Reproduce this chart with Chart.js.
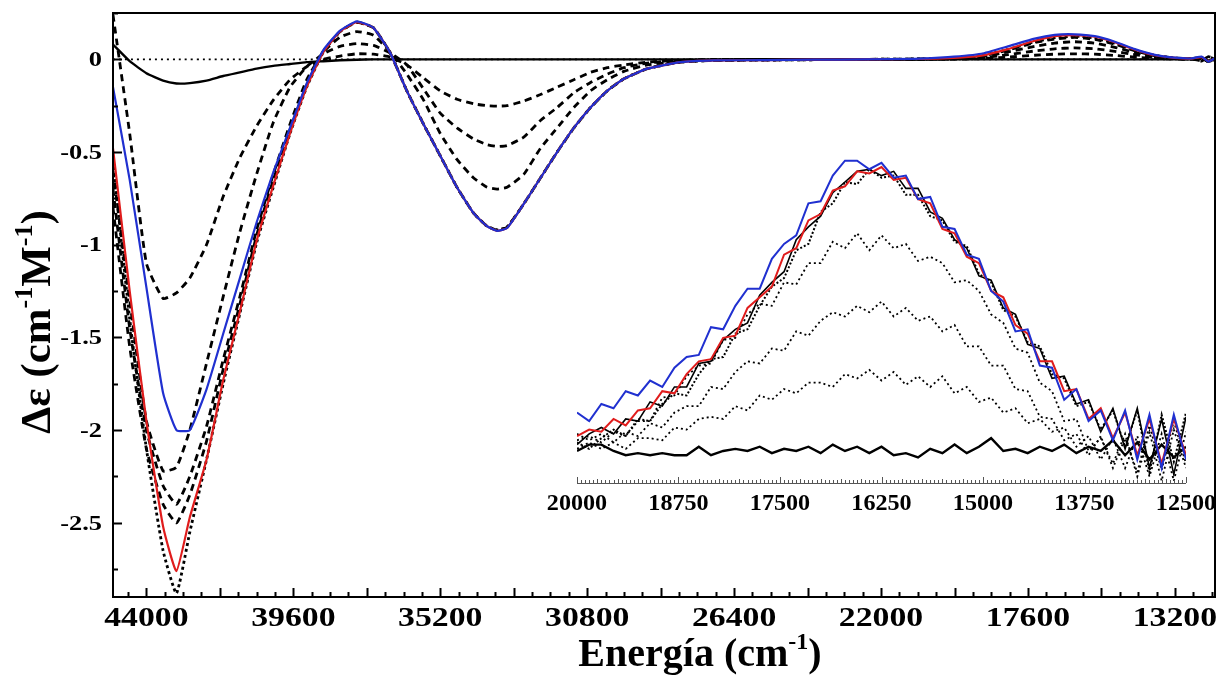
<!DOCTYPE html>
<html>
<head>
<meta charset="utf-8">
<script src="https://cdn.jsdelivr.net/npm/chart.js@4/dist/chart.umd.min.js"></script>
<style>
  html, body { margin: 0; padding: 0; background: #fff; }
  #wrap { position: relative; width: 1224px; height: 676px; }
  #main { position: absolute; left: 0; top: 0; width: 1224px; height: 676px; }
  #inset { position: absolute; left: 530px; top: 140px; width: 690px; height: 390px; }
</style>
</head>
<body>
<div id="wrap">
  <canvas id="main" width="1224" height="676"></canvas>
  <canvas id="inset" width="690" height="390"></canvas>
</div>
<script>
// main spectra, energy in cm-1 (descending)
const energy = [45000, 44500, 44000, 43500, 43100, 42700, 42200, 41700, 41200, 40700,
  40200, 39700, 39200, 38700, 38200, 37700, 37200, 36700, 36200, 35700,
  35200, 34700, 34200, 33800, 33500, 33200, 32700, 32200, 31700, 31200,
  30700, 30200, 29700, 29000, 28000, 27000, 25500, 24000, 22500, 21000,
  20000, 19000, 18200, 17400, 16800, 16200, 15600, 15000, 14400, 13800,
  13200, 12700, 12400, 12200, 12000];

const redCD = [-0.48, -1.25, -1.95, -2.52, -2.76, -2.47, -2.16, -1.73, -1.36, -0.98,
  -0.68, -0.40, -0.15, 0.04, 0.15, 0.20, 0.17, 0.035, -0.17, -0.35,
  -0.52, -0.69, -0.83, -0.90, -0.925, -0.91, -0.78, -0.64, -0.50, -0.37,
  -0.26, -0.17, -0.105, -0.05, -0.015, -0.006, -0.004, -0.002, 0.0, 0.002,
  0.006, 0.02, 0.055, 0.10, 0.125, 0.131, 0.122, 0.092, 0.052, 0.022,
  0.008, 0.004, 0.012, -0.01, 0.005];

const blueCD = [-0.15, -0.65, -1.23, -1.80, -2.0, -2.0, -1.78, -1.48, -1.18, -0.88,
  -0.61, -0.37, -0.13, 0.05, 0.155, 0.205, 0.17, 0.035, -0.17, -0.35,
  -0.52, -0.69, -0.83, -0.90, -0.925, -0.91, -0.78, -0.64, -0.50, -0.37,
  -0.26, -0.17, -0.105, -0.05, -0.015, -0.006, -0.004, -0.002, 0.0, 0.003,
  0.012, 0.03, 0.07, 0.112, 0.132, 0.135, 0.125, 0.095, 0.055, 0.024,
  0.009, 0.005, 0.015, -0.012, 0.006];

const startCD = [0.08, -0.01, -0.075, -0.115, -0.13, -0.128, -0.115, -0.09, -0.07, -0.05,
  -0.035, -0.025, -0.015, -0.01, -0.005, -0.002, 0, 0, 0, 0,
  0, 0, 0, 0, 0, 0, 0, 0, 0, 0,
  0, 0, 0, 0, 0, 0, 0, 0, 0, 0,
  0, 0, 0, 0, 0, 0, 0, 0, 0, 0,
  0, 0, 0.006, -0.006, 0.002];

const step1CD = [0.24, -0.40, -1.10, -1.29, -1.26, -1.18, -1.0, -0.74, -0.53, -0.36,
  -0.22, -0.11, -0.04, 0.0, 0.018, 0.03, 0.028, 0.012, -0.03, -0.10,
  -0.17, -0.215, -0.24, -0.25, -0.252, -0.25, -0.225, -0.19, -0.15, -0.11,
  -0.07, -0.045, -0.03, -0.015, -0.005, 0, 0, 0, 0, 0,
  0, 0.004, 0.012, 0.022, 0.028, 0.03, 0.028, 0.021, 0.012, 0.005,
  0.002, 0, 0.008, -0.012, 0];

const step2CD = [-0.60, -1.30, -1.95, -2.22, -2.20, -2.0, -1.64, -1.28, -0.93, -0.62,
  -0.34, -0.15, -0.04, 0.03, 0.07, 0.085, 0.075, 0.035, -0.03, -0.16,
  -0.29, -0.37, -0.43, -0.46, -0.47, -0.465, -0.42, -0.33, -0.26, -0.18,
  -0.125, -0.08, -0.045, -0.02, -0.008, -0.004, 0, 0, 0, 0,
  0.002, 0.008, 0.025, 0.045, 0.057, 0.062, 0.057, 0.043, 0.025, 0.01,
  0.004, 0.002, -0.008, 0.015, 0];

const step3CD = [-0.70, -1.45, -2.0, -2.30, -2.40, -2.25, -1.98, -1.62, -1.28, -0.92,
  -0.62, -0.35, -0.11, 0.04, 0.12, 0.15, 0.13, 0.04, -0.08, -0.22,
  -0.40, -0.54, -0.64, -0.69, -0.70, -0.69, -0.62, -0.48, -0.37, -0.26,
  -0.17, -0.11, -0.065, -0.03, -0.01, -0.005, 0, 0, 0, 0,
  0.003, 0.013, 0.04, 0.07, 0.088, 0.095, 0.087, 0.065, 0.037, 0.015,
  0.005, 0.002, 0.01, -0.012, 0.003];

const step4CD = [-0.80, -1.55, -2.10, -2.40, -2.50, -2.35, -2.06, -1.67, -1.32, -0.95,
  -0.65, -0.38, -0.14, 0.045, 0.15, 0.20, 0.17, 0.035, -0.17, -0.35,
  -0.52, -0.69, -0.83, -0.90, -0.92, -0.905, -0.78, -0.64, -0.50, -0.37,
  -0.26, -0.17, -0.105, -0.05, -0.015, -0.006, -0.004, -0.002, 0, 0.002,
  0.005, 0.018, 0.05, 0.09, 0.11, 0.118, 0.108, 0.082, 0.046, 0.02,
  0.007, 0.003, -0.01, 0.014, 0];

const step5CD = [-0.55, -1.40, -2.10, -2.65, -2.88, -2.55, -2.16, -1.75, -1.37, -0.99,
  -0.69, -0.40, -0.15, 0.04, 0.15, 0.20, 0.17, 0.035, -0.17, -0.35,
  -0.52, -0.69, -0.83, -0.90, -0.92, -0.905, -0.78, -0.64, -0.50, -0.37,
  -0.26, -0.17, -0.105, -0.05, -0.015, -0.006, -0.004, -0.002, 0, 0.002,
  0.005, 0.02, 0.053, 0.095, 0.117, 0.125, 0.115, 0.087, 0.049, 0.021,
  0.007, 0.003, 0.011, -0.013, 0.004];

const zeroX = [45000, 12000];
const zeroY = [0, 0];

// inset: d-d band, 20000 - 12500 cm-1
const insetEnergy = [20000, 19850, 19700, 19550, 19400, 19250, 19100, 18950, 18800, 18650,
  18500, 18350, 18200, 18050, 17900, 17750, 17600, 17450, 17300, 17150,
  17000, 16850, 16700, 16550, 16400, 16250, 16100, 15950, 15800, 15650,
  15500, 15350, 15200, 15050, 14900, 14750, 14600, 14450, 14300, 14150,
  14000, 13850, 13700, 13550, 13400, 13250, 13100, 12950, 12800, 12650,
  12500];

const insetBlue = [0.018, 0.014, 0.022, 0.020, 0.028, 0.026, 0.033, 0.030, 0.039, 0.044,
  0.045, 0.058, 0.057, 0.068, 0.076, 0.076, 0.090, 0.097, 0.101, 0.116,
  0.117, 0.129, 0.136, 0.136, 0.132, 0.135, 0.128, 0.129, 0.118, 0.119,
  0.105, 0.104, 0.092, 0.090, 0.075, 0.070, 0.056, 0.057, 0.040, 0.039,
  0.024, 0.029, 0.014, 0.019, 0.005, 0.019, -0.004, 0.017, -0.008, 0.017,
  -0.004];

const insetRed = [0.007, 0.010, 0.009, 0.015, 0.012, 0.019, 0.020, 0.028, 0.027, 0.036,
  0.042, 0.043, 0.053, 0.054, 0.067, 0.072, 0.077, 0.092, 0.095, 0.108,
  0.111, 0.122, 0.124, 0.131, 0.130, 0.133, 0.127, 0.128, 0.118, 0.116,
  0.104, 0.102, 0.091, 0.088, 0.075, 0.072, 0.059, 0.055, 0.042, 0.042,
  0.028, 0.029, 0.015, 0.020, 0.006, 0.018, -0.002, 0.015, -0.006, 0.015,
  -0.002];

const insetBlackA = [0.003, 0.008, 0.011, 0.008, 0.015, 0.014, 0.023, 0.021, 0.030, 0.030,
  0.041, 0.042, 0.052, 0.057, 0.060, 0.073, 0.079, 0.084, 0.099, 0.105,
  0.110, 0.121, 0.126, 0.131, 0.132, 0.129, 0.131, 0.123, 0.123, 0.112,
  0.109, 0.099, 0.095, 0.082, 0.080, 0.067, 0.064, 0.050, 0.048, 0.034,
  0.035, 0.022, 0.024, 0.009, 0.020, 0.001, 0.020, -0.008, 0.015, -0.011,
  0.016];

const insetBlackB = [0.004, 0.001, 0.006, 0.010, 0.007, 0.015, 0.014, 0.022, 0.027, 0.026,
  0.036, 0.043, 0.044, 0.055, 0.057, 0.068, 0.077, 0.081, 0.094, 0.097,
  0.112, 0.116, 0.126, 0.125, 0.132, 0.128, 0.129, 0.120, 0.120, 0.110,
  0.108, 0.098, 0.096, 0.083, 0.079, 0.066, 0.063, 0.051, 0.049, 0.036,
  0.034, 0.021, 0.023, 0.010, 0.019, 0.002, 0.019, -0.010, 0.017, -0.005,
  0.018];

const insetDot3 = [0.005, 0.007, 0.004, 0.009, 0.007, 0.014, 0.014, 0.025, 0.026, 0.035,
  0.040, 0.041, 0.052, 0.053, 0.064, 0.069, 0.068, 0.079, 0.078, 0.088,
  0.088, 0.098, 0.095, 0.102, 0.094, 0.101, 0.095, 0.097, 0.089, 0.091,
  0.088, 0.079, 0.080, 0.075, 0.064, 0.060, 0.048, 0.046, 0.032, 0.028,
  0.014, 0.015, 0.000, 0.006, -0.006, 0.008, -0.012, 0.009, -0.014, 0.010,
  -0.008];

const insetDot2 = [0.008, 0.005, 0.008, 0.004, 0.009, 0.007, 0.013, 0.011, 0.018, 0.021,
  0.021, 0.030, 0.029, 0.037, 0.042, 0.041, 0.048, 0.047, 0.056, 0.054,
  0.061, 0.065, 0.063, 0.068, 0.065, 0.070, 0.063, 0.067, 0.061, 0.063,
  0.056, 0.059, 0.049, 0.049, 0.040, 0.040, 0.029, 0.028, 0.016, 0.015,
  0.005, 0.008, -0.002, 0.007, -0.008, 0.006, -0.010, 0.012, -0.009, 0.014,
  -0.006];

const insetDot1 = [0.001, 0.004, 0.001, 0.004, 0.001, 0.006, 0.006, 0.005, 0.011, 0.010,
  0.015, 0.016, 0.015, 0.021, 0.019, 0.026, 0.024, 0.029, 0.027, 0.032,
  0.032, 0.030, 0.036, 0.034, 0.038, 0.033, 0.037, 0.031, 0.035, 0.030,
  0.035, 0.027, 0.030, 0.023, 0.025, 0.018, 0.020, 0.013, 0.015, 0.009,
  0.011, 0.002, 0.007, -0.004, 0.006, -0.008, 0.007, -0.012, 0.008, -0.014,
  0.009];

const insetStart = [0.000, 0.003, 0.003, 0.000, -0.002, -0.001, -0.002, -0.001, -0.002, -0.002,
  0.002, -0.002, 0.000, 0.001, 0.000, 0.002, -0.001, 0.001, 0.000, 0.002,
  -0.001, 0.003, 0.000, 0.002, -0.001, 0.002, -0.002, -0.001, -0.003, 0.001,
  -0.001, 0.003, -0.001, 0.002, 0.006, 0.000, 0.001, -0.001, 0.002, 0.000,
  0.003, -0.001, 0.002, 0.000, 0.005, -0.002, 0.004, -0.004, 0.003, -0.003,
  0.002];

// tick labels
const xTickLabels = [44000, 39600, 35200, 30800, 26400, 22000, 17600, 13200];
const yTickLabels = [0, -0.5, -1, -1.5, -2, -2.5];
const insetTickLabels = [20000, 18750, 17500, 16250, 15000, 13750, 12500];

const SERIF = "'Liberation Serif', 'Times New Roman', serif";
const RED = '#e01c1c';
const BLUE = '#2030d0';

function pts(xs, ys) {
  return xs.map((x, i) => ({ x: x, y: ys[i] }));
}

function line(data, color, width, dash) {
  return {
    data: data,
    borderColor: color,
    borderWidth: width,
    borderDash: dash || [],
    pointRadius: 0,
    fill: false
  };
}

// text drawn with a horizontal stretch, like the original figure
function stretchText(ctx, str, x, y, font, sx, align) {
  ctx.save();
  ctx.font = font;
  ctx.fillStyle = '#000';
  ctx.textAlign = align;
  ctx.textBaseline = 'middle';
  ctx.translate(x, y);
  ctx.scale(sx, 1);
  ctx.fillText(str, 0, 0);
  ctx.restore();
}

// text with superscripts, centred on cx, baseline at by
function richText(ctx, parts, cx, by, size, angle) {
  const big = 'bold ' + size + 'px ' + SERIF;
  const small = 'bold ' + Math.round(size * 0.6) + 'px ' + SERIF;
  ctx.save();
  ctx.fillStyle = '#000';
  ctx.textBaseline = 'alphabetic';
  ctx.textAlign = 'left';
  let total = 0;
  parts.forEach(p => {
    ctx.font = p.sup ? small : big;
    p.w = ctx.measureText(p.t).width;
    total += p.w;
  });
  ctx.translate(cx, by);
  ctx.rotate(angle);
  let pos = -total / 2;
  parts.forEach(p => {
    ctx.font = p.sup ? small : big;
    ctx.fillText(p.t, pos, p.sup ? -size * 0.42 : 0);
    pos += p.w;
  });
  ctx.restore();
}

const mainFrame = {
  id: 'mainFrame',
  afterDraw(chart) {
    const { ctx, chartArea: a, scales: { x, y } } = chart;
    ctx.save();
    ctx.strokeStyle = '#000';
    ctx.lineWidth = 2;
    ctx.strokeRect(a.left, a.top, a.right - a.left, a.bottom - a.top);

    // inward ticks on the bottom axis
    ctx.lineWidth = 2;
    ctx.beginPath();
    for (let k = 1; k >= -58; k--) {
      const v = 44000 + 550 * k;
      const px = Math.round(x.getPixelForValue(v)) + 0.5;
      const len = (k % 4 === 0) ? 9 : 5;
      ctx.moveTo(px, a.bottom);
      ctx.lineTo(px, a.bottom - len);
    }
    // inward ticks on the left axis
    for (let k = 1; k >= -11; k--) {
      const v = 0.25 * k;
      const py = Math.round(y.getPixelForValue(v)) + 0.5;
      const len = (k % 2 === 0) ? 9 : 5;
      ctx.moveTo(a.left, py);
      ctx.lineTo(a.left + len, py);
    }
    ctx.stroke();
    ctx.restore();

    xTickLabels.forEach(v => {
      stretchText(ctx, String(v), x.getPixelForValue(v), a.bottom + 22,
        'bold 27px ' + SERIF, 1.25, 'center');
    });
    yTickLabels.forEach(v => {
      stretchText(ctx, String(v), a.left - 11, y.getPixelForValue(v) + 1,
        'bold 22px ' + SERIF, 1.2, 'right');
    });

    richText(ctx, [{ t: 'Energía (cm' }, { t: '-1', sup: true }, { t: ')' }],
      700, 666, 40, 0);
    richText(ctx, [{ t: 'Δε (cm' }, { t: '-1', sup: true }, { t: 'M' }, { t: '-1', sup: true }, { t: ')' }],
      50, 322, 43, -Math.PI / 2);
  }
};

const insetAxis = {
  id: 'insetAxis',
  afterDraw(chart) {
    const { ctx, chartArea: a, scales: { x } } = chart;
    ctx.save();
    ctx.strokeStyle = '#555';
    ctx.lineWidth = 1;
    ctx.beginPath();
    ctx.moveTo(a.left, a.bottom + 0.5);
    ctx.lineTo(a.right, a.bottom + 0.5);
    for (let v = 20000; v >= 12500; v -= 50) {
      const px = Math.round(x.getPixelForValue(v)) + 0.5;
      const len = (v % 1250 === 0) ? 6 : (v % 250 === 0 ? 4 : 3);
      ctx.moveTo(px, a.bottom);
      ctx.lineTo(px, a.bottom - len);
    }
    ctx.stroke();
    ctx.restore();
    insetTickLabels.forEach(v => {
      stretchText(ctx, String(v), x.getPixelForValue(v), a.bottom + 21,
        'bold 23px ' + SERIF, 1.05, 'center');
    });
  }
};

new Chart(document.getElementById('main'), {
  type: 'line',
  data: {
    datasets: [
      line(pts(energy, blueCD), BLUE, 2.2),
      line(pts(energy, redCD), RED, 2.2),
      line(pts(energy, startCD), '#000', 2.4),
      line(pts(zeroX, zeroY), '#000', 1.6, [2, 4]),
      line(pts(energy, step1CD), '#000', 2.8, [7, 5]),
      line(pts(energy, step2CD), '#000', 2.8, [7, 5]),
      line(pts(energy, step3CD), '#000', 2.8, [7, 5]),
      line(pts(energy, step4CD), '#000', 2.8, [7, 5]),
      line(pts(energy, step5CD), '#000', 2.8, [3, 3])
    ]
  },
  options: {
    responsive: false,
    animation: false,
    devicePixelRatio: 1,
    layout: { padding: { top: 13, right: 9, left: 0, bottom: 0 } },
    elements: { line: { tension: 0.15 } },
    plugins: { legend: { display: false }, tooltip: { enabled: false } },
    scales: {
      x: {
        type: 'linear', reverse: true, min: 12000, max: 45000,
        ticks: { display: false }, grid: { display: false }, border: { display: false },
        afterFit: s => { s.height = 79; }
      },
      y: {
        min: -2.9, max: 0.25,
        ticks: { display: false }, grid: { display: false }, border: { display: false },
        afterFit: s => { s.width = 113; }
      }
    }
  },
  plugins: [mainFrame]
});

new Chart(document.getElementById('inset'), {
  type: 'line',
  data: {
    datasets: [
      line(pts(insetEnergy, insetBlue), BLUE, 2),
      line(pts(insetEnergy, insetRed), RED, 2),
      line(pts(insetEnergy, insetBlackA), '#000', 1.6),
      line(pts(insetEnergy, insetBlackB), '#000', 2, [2, 2]),
      line(pts(insetEnergy, insetDot3), '#000', 1.8, [2, 3]),
      line(pts(insetEnergy, insetDot2), '#000', 1.8, [2, 3]),
      line(pts(insetEnergy, insetDot1), '#000', 1.8, [2, 3]),
      line(pts(insetEnergy, insetStart), '#000', 2.4)
    ]
  },
  options: {
    responsive: false,
    animation: false,
    devicePixelRatio: 1,
    layout: { padding: { top: 10, right: 34, left: 0, bottom: 0 } },
    elements: { line: { tension: 0 } },
    plugins: { legend: { display: false }, tooltip: { enabled: false } },
    scales: {
      x: {
        type: 'linear', reverse: true, min: 12500, max: 20000,
        ticks: { display: false }, grid: { display: false }, border: { display: false },
        afterFit: s => { s.height = 47; }
      },
      y: {
        min: -0.015, max: 0.141,
        ticks: { display: false }, grid: { display: false }, border: { display: false },
        afterFit: s => { s.width = 47; }
      }
    }
  },
  plugins: [insetAxis]
});
</script>
</body>
</html>
